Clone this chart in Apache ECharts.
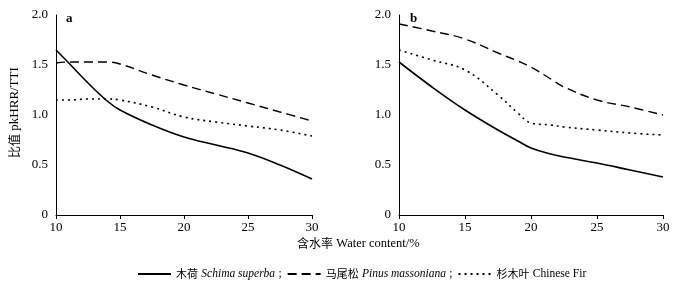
<!DOCTYPE html>
<html>
<head>
<meta charset="utf-8">
<script src="https://cdn.jsdelivr.net/npm/echarts@6/dist/echarts.min.js"></script>
<style>
  html, body { margin: 0; padding: 0; background: #fff; }
  #chart { width: 678px; height: 287px; }
</style>
</head>
<body>
<div id="chart"></div>
<script>
var chart = echarts.init(document.getElementById('chart'));

// water content (%)
var xA = [10, 11, 12.5, 14, 15, 17.5, 20, 22.5, 25, 27.5, 30];
var xB = [10, 12.5, 15, 17.5, 19, 20, 21.5, 22.5, 25, 27.5, 30];

// panel a
var schimaA = [1.65, 1.52, 1.32, 1.14, 1.05, 0.90, 0.78, 0.70, 0.62, 0.50, 0.36];
var pinusA = [1.52, 1.53, 1.53, 1.53, 1.51, 1.40, 1.30, 1.21, 1.12, 1.03, 0.94];
var firA = [1.15, 1.15, 1.16, 1.16, 1.15, 1.08, 0.98, 0.93, 0.89, 0.85, 0.79];

// panel b
var schimaB = [1.53, 1.28, 1.05, 0.85, 0.74, 0.67, 0.61, 0.58, 0.52, 0.45, 0.38];
var pinusB = [1.91, 1.84, 1.76, 1.62, 1.54, 1.48, 1.36, 1.28, 1.15, 1.08, 1.00];
var firB = [1.65, 1.55, 1.45, 1.20, 1.02, 0.92, 0.90, 0.88, 0.85, 0.82, 0.80];

var names = ['木荷', '马尾松', '杉木叶'];
var latin = {'木荷': 'Schima superba', '马尾松': 'Pinus massoniana', '杉木叶': 'Chinese Fir'};

var serif = '"Liberation Serif", "Times New Roman", serif';
var cjk = '"Noto Sans CJK SC", sans-serif';

function pairs(xs, ys) {
    return xs.map(function (x, i) { return [x, ys[i]]; });
}

function xAxis(idx) {
    return {
        type: 'value', gridIndex: idx, min: 10, max: 30, interval: 5,
        axisLine: {lineStyle: {color: '#000', width: 1}},
        axisTick: {show: true, length: 4, lineStyle: {color: '#000'}},
        axisLabel: {color: '#000', fontFamily: serif, fontSize: 13, margin: 6},
        splitLine: {show: false}
    };
}

function yAxis(idx) {
    return {
        type: 'value', gridIndex: idx, min: 0, max: 2, interval: 0.5,
        axisLine: {show: true, lineStyle: {color: '#000', width: 1}},
        axisTick: {show: false},
        axisLabel: {
            color: '#000', fontFamily: serif, fontSize: 13, margin: 8,
            formatter: function (v) { return v === 0 ? '0' : v.toFixed(1); }
        },
        splitLine: {show: false}
    };
}

var styles = [
    {type: 'solid', width: 1.6},
    {type: [9, 5], width: 1.4},
    {type: [2, 4], width: 1.6}
];

function line(name, idx, xs, ys, k) {
    return {
        name: name, type: 'line', xAxisIndex: idx, yAxisIndex: idx,
        data: pairs(xs, ys), smooth: 0.4, symbol: 'none',
        lineStyle: {color: '#000', type: styles[k].type, width: styles[k].width},
        itemStyle: {color: '#000'}
    };
}

var option = {
    backgroundColor: '#fff',
    animation: false,
    grid: [
        {left: 56, top: 15, width: 256, height: 200},
        {left: 399, top: 15, width: 264, height: 200}
    ],
    xAxis: [xAxis(0), xAxis(1)],
    yAxis: [yAxis(0), yAxis(1)],
    legend: {
        left: 132, top: 263, itemWidth: 33, itemHeight: 12, itemGap: 5,
        itemStyle: {opacity: 0},
        data: names,
        formatter: function (n) {
            if (n === '杉木叶') return '{zh|' + n + '} {r|' + latin[n] + '}';
            return '{zh|' + n + '} {it|' + latin[n] + '} {r|;}';
        },
        textStyle: {
            color: '#000',
            rich: {
                zh: {fontFamily: cjk, fontSize: 11, color: '#000'},
                it: {fontFamily: serif, fontStyle: 'italic', fontSize: 11.5, color: '#000'},
                r: {fontFamily: serif, fontSize: 11.5, color: '#000'}
            }
        }
    },
    graphic: [
        {type: 'text', left: 66, top: 12, style: {text: 'a', font: 'bold 13px ' + serif, fill: '#000'}},
        {type: 'text', left: 410, top: 12, style: {text: 'b', font: 'bold 13px ' + serif, fill: '#000'}},
        {type: 'text', x: 297, y: 237, style: {
            text: '{zh|含水率} {en|Water content/%}',
            rich: {
                zh: {fontFamily: cjk, fontSize: 12, fill: '#000'},
                en: {fontFamily: serif, fontSize: 12.5, fill: '#000'}
            }
        }},
        {type: 'text', x: 8, y: 158, rotation: Math.PI / 2, style: {
            text: '{zh|比值} {en|pkHRR/TTI}',
            rich: {
                zh: {fontFamily: cjk, fontSize: 12, fill: '#000'},
                en: {fontFamily: serif, fontSize: 13, fill: '#000'}
            }
        }}
    ],
    series: [
        line('木荷', 0, xA, schimaA, 0),
        line('马尾松', 0, xA, pinusA, 1),
        line('杉木叶', 0, xA, firA, 2),
        line('木荷', 1, xB, schimaB, 0),
        line('马尾松', 1, xB, pinusB, 1),
        line('杉木叶', 1, xB, firB, 2)
    ]
};

chart.setOption(option);
</script>
</body>
</html>
